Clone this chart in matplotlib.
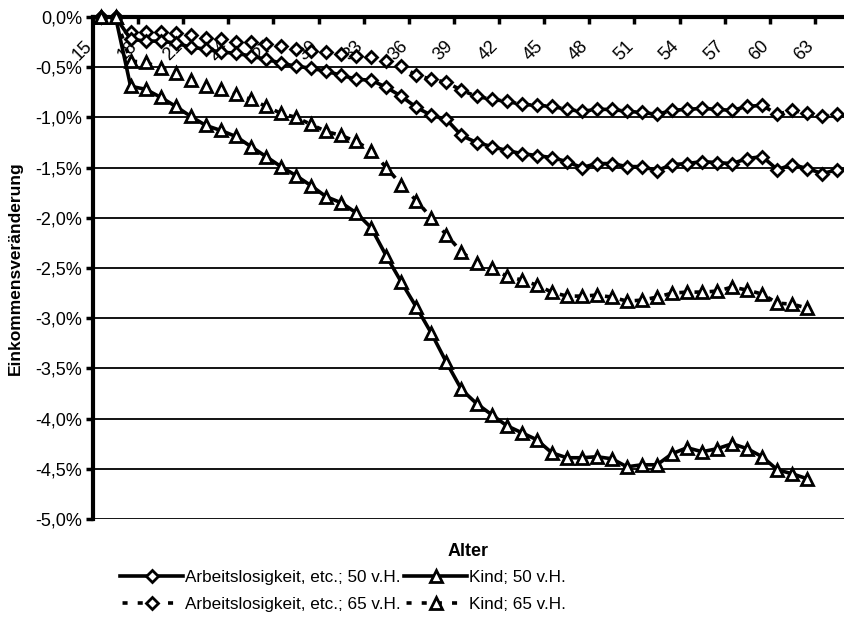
import matplotlib
matplotlib.use('Agg')
import matplotlib.pyplot as plt

plt.rcParams['font.family'] = ['Liberation Sans', 'DejaVu Sans']

# Daten (Einkommensveränderung in %)
alter = list(range(15, 65))

arbeit_50 = [0.0, 0.0, -0.22, -0.24, -0.24, -0.26, -0.30, -0.32, -0.35, -0.36,
             -0.39, -0.42, -0.46, -0.49, -0.51, -0.54, -0.58, -0.62, -0.63, -0.70,
             -0.79, -0.90, -0.98, -1.02, -1.18, -1.25, -1.29, -1.33, -1.36, -1.38,
             -1.40, -1.44, -1.50, -1.46, -1.46, -1.49, -1.49, -1.53, -1.47, -1.46,
             -1.44, -1.45, -1.46, -1.41, -1.39, -1.52, -1.47, -1.51, -1.56, -1.52]

arbeit_65 = [0.0, 0.0, -0.15, -0.15, -0.15, -0.16, -0.18, -0.21, -0.22, -0.25,
             -0.25, -0.27, -0.29, -0.32, -0.34, -0.35, -0.37, -0.39, -0.40, -0.44,
             -0.49, -0.58, -0.62, -0.65, -0.73, -0.79, -0.82, -0.84, -0.87, -0.88,
             -0.89, -0.92, -0.94, -0.92, -0.92, -0.94, -0.95, -0.97, -0.93, -0.92,
             -0.91, -0.92, -0.93, -0.89, -0.88, -0.97, -0.93, -0.96, -0.99, -0.97]

kind_50 = [0.0, 0.0, -0.69, -0.72, -0.80, -0.89, -0.99, -1.08, -1.13, -1.19,
           -1.29, -1.39, -1.49, -1.58, -1.68, -1.79, -1.85, -1.95, -2.10, -2.38,
           -2.64, -2.89, -3.15, -3.44, -3.71, -3.85, -3.96, -4.07, -4.14, -4.21,
           -4.34, -4.39, -4.39, -4.38, -4.40, -4.48, -4.46, -4.46, -4.35, -4.29,
           -4.33, -4.30, -4.25, -4.30, -4.38, -4.51, -4.55, -4.60]

kind_65 = [0.0, 0.0, -0.44, -0.45, -0.51, -0.56, -0.63, -0.69, -0.72, -0.77,
           -0.82, -0.89, -0.96, -1.00, -1.07, -1.14, -1.18, -1.24, -1.33, -1.50,
           -1.67, -1.83, -2.00, -2.17, -2.34, -2.45, -2.50, -2.58, -2.62, -2.67,
           -2.74, -2.78, -2.78, -2.77, -2.79, -2.83, -2.82, -2.79, -2.75, -2.74,
           -2.74, -2.73, -2.69, -2.72, -2.76, -2.85, -2.86, -2.90]

x_label_ages = list(range(15, 64, 3))
y_ticks = [0.0, -0.5, -1.0, -1.5, -2.0, -2.5, -3.0, -3.5, -4.0, -4.5, -5.0]
y_tick_labels = ['0,0%', '-0,5%', '-1,0%', '-1,5%', '-2,0%', '-2,5%',
                 '-3,0%', '-3,5%', '-4,0%', '-4,5%', '-5,0%']

labels = ['Arbeitslosigkeit, etc.; 50 v.H.', 'Kind; 50 v.H.',
          'Arbeitslosigkeit, etc.; 65 v.H.', 'Kind; 65 v.H.']

fig = plt.figure(figsize=(8.45, 6.22), dpi=100)
ax = fig.add_axes([93 / 845, 1 - 519 / 622, 1 - 93 / 845, (519 - 17) / 622])

lw = 2.6
dash = (3.5, (1.4, 2.8))
h1, = ax.plot(alter, arbeit_50, color='black', lw=lw, marker='D', ms=6.5,
              mfc='white', mec='black', mew=2.0, clip_on=False, zorder=4)
h2, = ax.plot(alter[:len(kind_50)], kind_50, color='black', lw=lw, marker='^',
              ms=8, mfc='white', mec='black', mew=2.0, clip_on=False, zorder=4)
h3, = ax.plot(alter, arbeit_65, color='black', lw=lw, ls=dash, marker='D',
              ms=6.5, mfc='white', mec='black', mew=2.0, clip_on=False, zorder=3)
h4, = ax.plot(alter[:len(kind_65)], kind_65, color='black', lw=lw, ls=dash,
              marker='^', ms=8, mfc='white', mec='black', mew=2.0,
              clip_on=False, zorder=3)

ax.set_xlim(14.5, 64.5)
ax.set_ylim(-5.0, 0.0)

# x-Achse liegt oben (bei 0 %), Striche zwischen den Kategorien
ax.xaxis.tick_top()
ax.set_xticks([a - 0.5 for a in x_label_ages[1:]])
ax.tick_params(axis='x', direction='in', length=5, width=2.5,
               top=True, bottom=False, labeltop=False, labelbottom=False)
for a in x_label_ages:
    ax.annotate(str(a), xy=(a, 0), xycoords='data', xytext=(-3.5, -15),
                textcoords='offset points', rotation=45, ha='right', va='top',
                fontsize=13, zorder=1)

ax.set_yticks(y_ticks)
ax.set_yticklabels(y_tick_labels, fontsize=13)
ax.tick_params(axis='y', direction='out', length=5, width=2.5, pad=3)
ax.yaxis.grid(True, color='black', lw=1.3)
ax.set_axisbelow(True)

ax.spines['left'].set_linewidth(3)
ax.spines['top'].set_linewidth(3)
ax.spines['right'].set_visible(False)
ax.spines['bottom'].set_visible(False)

fig.text(15 / 845, 1 - 268 / 622, 'Einkommensveränderung', rotation=90,
         ha='center', va='center', fontsize=12.5, fontweight='bold')
fig.text(468 / 845, 1 - 551 / 622, 'Alter', ha='center', va='center',
         fontsize=13, fontweight='bold')

fig.legend([h1, h3, h2, h4], [labels[0], labels[2], labels[1], labels[3]],
           ncol=2, loc='upper left', bbox_to_anchor=(120 / 845, 1 - 570 / 622),
           frameon=False, fontsize=12.3, handlelength=3.7, handletextpad=0.1,
           columnspacing=0.2, labelspacing=0.7, borderpad=0, borderaxespad=0)

fig.savefig('out.png', dpi=100)
